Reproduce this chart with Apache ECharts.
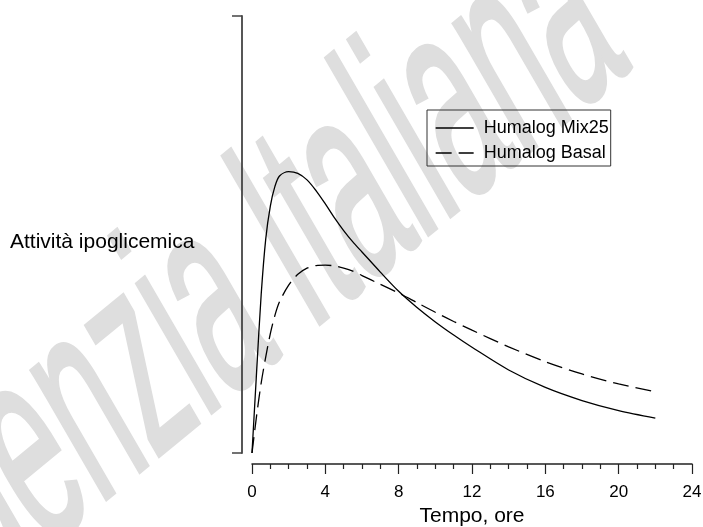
<!DOCTYPE html>
<html>
<head>
<meta charset="utf-8">
<script src="https://cdn.jsdelivr.net/npm/echarts@6/dist/echarts.min.js"></script>
<style>
  html, body { margin: 0; padding: 0; background: #fff; }
  #main { width: 703px; height: 527px; }
</style>
</head>
<body>
<div id="main"></div>
<script>
// tempo (ore) e attività ipoglicemica (unità arbitrarie, 0-100)
var ore = [0, 0.25, 0.5, 0.75, 1, 1.25, 1.5, 2, 2.5, 3, 3.5, 4, 4.5, 5, 5.5, 6, 7, 8, 9, 10, 11, 12, 14, 16, 18, 20, 22];
var mix25 = [0, 18.5, 36.2, 49, 56.5, 61, 63.4, 64.4, 64.0, 62.5, 60.0, 57.0, 53.8, 50.9, 48.3, 46.0, 41.4, 37.0, 33.3, 30.0, 27.0, 24.2, 19.0, 15.0, 12.0, 9.7, 8.0];
var basal = [0, 8.5, 16, 22, 27.3, 31.5, 34.6, 38.4, 40.9, 42.3, 42.9, 43.0, 42.8, 42.3, 41.6, 40.6, 38.6, 36.6, 34.4, 32.2, 30.1, 28.1, 24.3, 20.9, 18.1, 15.8, 14.0];
var nomi = ['Humalog Mix25', 'Humalog Basal'];

var font = 'Liberation Sans, Arial, sans-serif';

function coppie(xs, ys) {
  return xs.map(function (x, i) { return [x, ys[i]]; });
}

var myChart = echarts.init(document.getElementById('main'));

myChart.setOption({
  backgroundColor: '#fff',
  animation: false,
  grid: { left: 252, right: 11, top: 16, bottom: 74, containLabel: false, outerBoundsMode: 'none' },
  graphic: [
    {
      // filigrana
      type: 'group',
      scaleX: 0.84,
      z: -10,
      silent: true,
      children: [{
        type: 'text',
        x: 283, y: 292,
        rotation: 34.6 * Math.PI / 180,
        scaleX: 0.49,
        scaleY: 1,
        style: {
          text: 'Agenzia Italiana',
          fontFamily: font,
          fontSize: 295,
          fill: '#dedede',
          stroke: '#dedede',
          lineWidth: 5,
          textAlign: 'center',
          textVerticalAlign: 'middle'
        }
      }]
    },
    {
      type: 'text',
      x: 10, y: 242,
      style: {
        text: 'Attività ipoglicemica',
        fontFamily: font,
        fontSize: 21,
        fill: '#000',
        textAlign: 'left',
        textVerticalAlign: 'middle'
      }
    }
  ],
  legend: {
    data: nomi,
    orient: 'vertical',
    left: 427,
    top: 110,
    padding: [8, 2, 3, 8],
    itemWidth: 38,
    itemHeight: 14,
    itemGap: 5,
    borderColor: '#333',
    borderWidth: 1,
    itemStyle: { opacity: 0 },
    lineStyle: { width: 1.3 },
    textStyle: { fontFamily: font, fontSize: 18, color: '#000', lineHeight: 20, padding: [0, 0, 0, 5] }
  },
  xAxis: {
    type: 'value',
    min: 0,
    max: 24,
    interval: 4,
    offset: 11,
    name: 'Tempo, ore',
    nameLocation: 'middle',
    nameGap: 41,
    nameTextStyle: { fontFamily: font, fontSize: 21, color: '#000' },
    axisLine: { onZero: false, lineStyle: { color: '#222', width: 1.5 } },
    axisTick: { length: 10, lineStyle: { color: '#222', width: 1.2 } },
    minorTick: { show: true, splitNumber: 4, length: 5, lineStyle: { color: '#222', width: 1.2 } },
    axisLabel: { margin: 20, fontFamily: font, fontSize: 17, color: '#000' },
    splitLine: { show: false }
  },
  yAxis: {
    type: 'value',
    min: 0,
    max: 100,
    interval: 100,
    offset: 10,
    axisLine: { show: true, onZero: false, lineStyle: { color: '#444', width: 1.8 } },
    axisTick: { show: true, length: 10, lineStyle: { color: '#444', width: 1.5 } },
    axisLabel: { show: false },
    splitLine: { show: false }
  },
  series: [
    {
      name: nomi[0],
      type: 'line',
      smooth: 0.3,
      showSymbol: false,
      symbol: 'none',
      z: 5,
      lineStyle: { color: '#000', width: 1.3 },
      itemStyle: { color: '#000' },
      data: coppie(ore, mix25)
    },
    {
      name: nomi[1],
      type: 'line',
      smooth: 0.3,
      showSymbol: false,
      symbol: 'none',
      z: 5,
      lineStyle: { color: '#000', width: 1.3, type: [16, 7] },
      itemStyle: { color: '#000' },
      data: coppie(ore, basal)
    }
  ]
});
</script>
</body>
</html>
